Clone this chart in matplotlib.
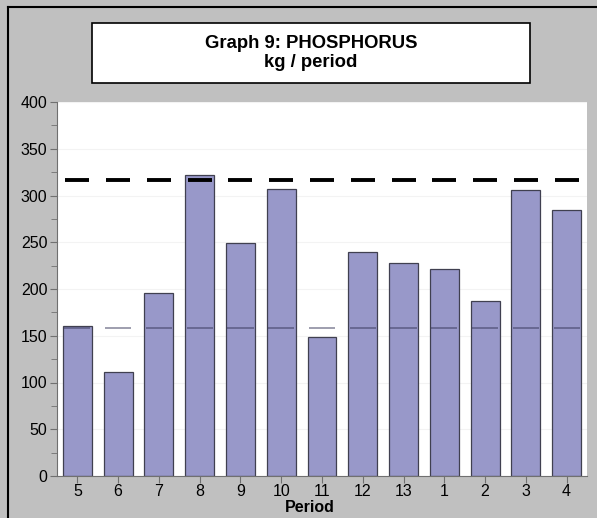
import numpy as np
import matplotlib.pyplot as plt
from matplotlib.lines import Line2D
from matplotlib.patches import Rectangle
from matplotlib.ticker import MultipleLocator

plt.rcParams['font.family'] = ['Liberation Sans', 'DejaVu Sans']

periods = ["5", "6", "7", "8", "9", "10", "11", "12", "13", "1", "2", "3", "4"]
phosphorus = [160, 111, 196, 322, 249, 307, 149, 240, 228, 221, 187, 306, 284]
mean_level = [158] * len(periods)
upper_limit = [317] * len(periods)

BG = "#c0c0c0"
BAR = "#9898c9"
W, H = 597, 518

fig = plt.figure(figsize=(W / 100, H / 100), dpi=100, facecolor=BG)

# black outer frame: only left and top edges fall inside the picture
fig.lines.append(Line2D([8 / W, 8 / W], [0, 1 - 7 / H], transform=fig.transFigure,
                        color="black", linewidth=1.5))
fig.lines.append(Line2D([8 / W, 1], [1 - 7 / H, 1 - 7 / H], transform=fig.transFigure,
                        color="black", linewidth=1.5))

# title box
fig.patches.append(Rectangle((92 / W, 1 - 83 / H), (530 - 92) / W, 60 / H,
                             transform=fig.transFigure, facecolor="white",
                             edgecolor="black", linewidth=1.2))
fig.text(311 / W, 1 - 53 / H, "Graph 9: PHOSPHORUS\nkg / period",
         ha="center", va="center", fontsize=13.3, fontweight="bold",
         linespacing=1.2)

ax = fig.add_axes([57 / W, 1 - 476 / H, (587 - 57) / W, (476 - 102) / H])
ax.set_facecolor("white")
x = np.arange(len(periods))

ax.bar(x, phosphorus, width=0.71, color=BAR, edgecolor="#404050",
       linewidth=0.9, zorder=2)
ax.hlines(mean_level, x - 0.32, x + 0.32, colors="#333355", alpha=0.6,
          linewidth=1.1, zorder=3)
ax.hlines(upper_limit, x - 0.295, x + 0.295, colors="black",
          linewidth=2.8, zorder=4)

ax.set_xlim(-0.5, len(periods) - 0.5)
ax.set_ylim(0, 400)
ax.set_xticks(x)
ax.set_xticklabels(periods)
ax.yaxis.set_major_locator(MultipleLocator(50))
ax.yaxis.set_minor_locator(MultipleLocator(25))
ax.tick_params(axis="both", which="major", labelsize=11.5, length=5,
               color="#707070")
ax.tick_params(axis="x", which="major", pad=1)
ax.tick_params(axis="y", which="major", pad=2)
ax.tick_params(axis="y", which="minor", length=4, color="#707070")
ax.grid(axis="y", color="#f3f3f3", linewidth=0.8, zorder=0)
ax.set_axisbelow(True)

for side in ("top", "right"):
    ax.spines[side].set_visible(False)
for side in ("left", "bottom"):
    ax.spines[side].set_color("#707070")

# axis title placed as figure text, just under the tick labels
fig.text(310 / W, 1 - 508 / H, "Period", ha="center", va="center",
         fontsize=11.5, fontweight="bold")

fig.savefig("out.png", dpi=100, facecolor=BG)
